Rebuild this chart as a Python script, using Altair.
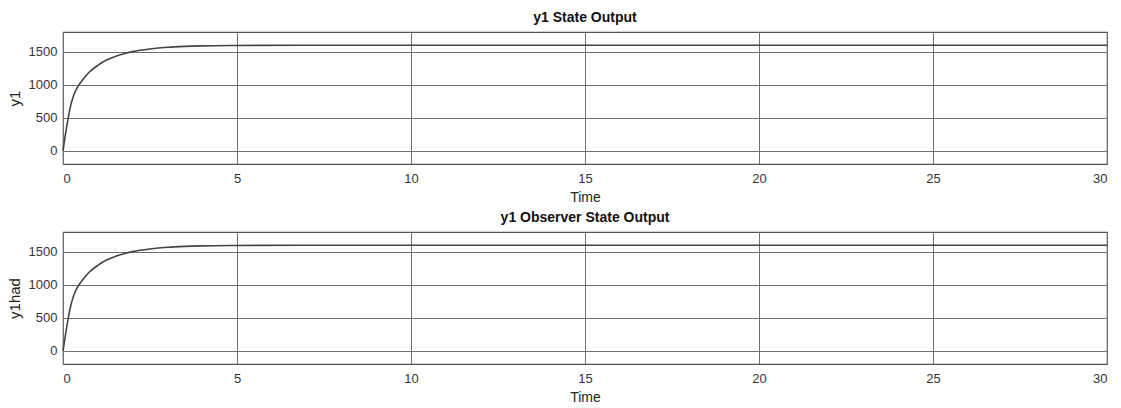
import altair as alt
import pandas as pd

# Simulated response of output y1 and its observer estimate
time = [0, 0.05, 0.1, 0.15, 0.2, 0.3, 0.4, 0.5, 0.6, 0.75, 1.0, 1.25, 1.5, 1.75, 2.0, 2.5, 3.0, 3.5, 4.0, 5.0, 7.0, 10.0, 15.0, 20.0, 25.0, 30.0]
y1 = [0, 180, 350, 500, 640, 830, 950, 1030, 1100, 1190, 1295, 1375, 1430, 1472, 1503, 1543, 1568, 1582, 1590, 1596, 1600, 1600, 1600, 1600, 1600, 1600]
y1had = [0, 170, 340, 490, 630, 825, 948, 1030, 1100, 1190, 1295, 1375, 1430, 1472, 1503, 1543, 1568, 1582, 1590, 1596, 1600, 1600, 1600, 1600, 1600, 1600]

x_ticks = [0, 5, 10, 15, 20, 25, 30]
y_ticks = [0, 500, 1000, 1500]

FONT = "Liberation Sans"
W, H = 1044, 132


def panel(values, ylabel, title):
    df = pd.DataFrame({"Time": time, "value": values})
    return (
        alt.Chart(df)
        .mark_line(color="#444444", strokeWidth=1.6, interpolate="monotone")
        .encode(
            x=alt.X(
                "Time:Q",
                scale=alt.Scale(domain=[0, 30], nice=False, zero=False),
                axis=alt.Axis(values=x_ticks, title="Time", format="d"),
            ),
            y=alt.Y(
                "value:Q",
                scale=alt.Scale(domain=[-200, 1800], nice=False),
                axis=alt.Axis(values=y_ticks, title=ylabel, format="d"),
            ),
        )
        .properties(
            width=W,
            height=H,
            title=alt.TitleParams(title, fontSize=14, fontWeight="bold", font=FONT, color="#111", offset=7),
        )
    )


chart = (
    alt.vconcat(
        panel(y1, "y1", "y1 State Output"),
        panel(y1had, "y1had", "y1 Observer State Output"),
        spacing=68,
        bounds="flush",
    )
    .properties(
        padding={"left": 6, "top": 10, "right": 5, "bottom": 5},
        background="white",
    )
    .configure_view(stroke="#555555", strokeWidth=1.2)
    .configure_axis(
        grid=True,
        gridColor="#707070",
        gridWidth=1,
        gridOpacity=1,
        domain=False,
        ticks=False,
        labelFont=FONT,
        labelFontSize=13,
        labelColor="#333333",
        labelPadding=6,
        titleFont=FONT,
        titleFontSize=14,
        titleFontWeight="normal",
        titleColor="#222222",
    )
    .configure_axisX(labelPadding=8, titlePadding=5)
    .configure_axisY(titlePadding=6, labelPadding=6, titleFontSize=15)
)

chart.save("out.html", embed_options={"renderer": "svg", "actions": False})
